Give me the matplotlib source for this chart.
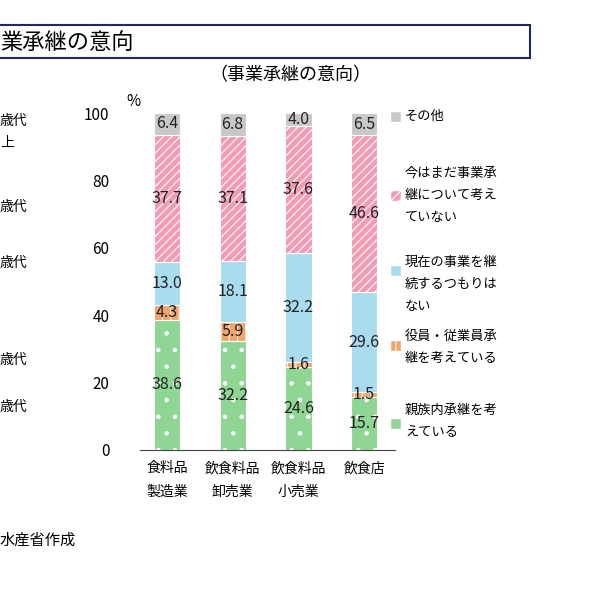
import matplotlib
matplotlib.use("Agg")
import matplotlib.pyplot as plt
from matplotlib.patches import Rectangle
import numpy as np

plt.rcParams['font.family'] = ['Noto Sans CJK JP', 'DejaVu Sans']
plt.rcParams['hatch.color'] = 'white'
plt.rcParams['hatch.linewidth'] = 0.8

categories = ["食料品\n製造業", "飲食料品\n卸売業", "飲食料品\n小売業", "飲食店"]
series_names = ["親族内承継を考\nえている", "役員・従業員承\n継を考えている",
                "現在の事業を継\n続するつもりは\nない", "今はまだ事業承\n継について考え\nていない", "その他"]
kin = [38.6, 32.2, 24.6, 15.7]
staff = [4.3, 5.9, 1.6, 1.5]
cont = [13.0, 18.1, 32.2, 29.6]
undecided = [37.7, 37.1, 37.6, 46.6]
other = [6.4, 6.8, 4.0, 6.5]
series = [kin, staff, cont, undecided, other]
colors = ["#8fd694", "#f4a46a", "#a9dcee", "#f39ab5", "#c8c8c8"]
hatches = [".", "||", None, "////", None]

W, H = 597, 591
fig = plt.figure(figsize=(W/100, H/100), dpi=100)
ax = fig.add_axes([140/W, 1-450/H, 255/W, 337/H])
x = np.arange(len(categories))
bottom = np.zeros(len(categories))
for vals, c, h in zip(series, colors, hatches):
    ax.bar(x, vals, 0.4, bottom=bottom, color=c, edgecolor='white', linewidth=0.8, hatch=h)
    for xi, b, v in zip(x, bottom, vals):
        ax.text(xi, b + v/2, f"{v:.1f}", ha='center', va='center', fontsize=11.5, color='#222222')
    bottom += np.array(vals)
ax.set_xlim(-0.41, 3.47)
ax.set_ylim(0, 100)
ax.set_yticks([0, 20, 40, 60, 80, 100])
ax.tick_params(axis='y', length=0, labelsize=11, pad=22)
ax.tick_params(axis='x', length=0, labelsize=10, pad=8)
ax.set_xticks(x)
ax.set_xticklabels(categories, linespacing=1.9)
for s in ['top', 'right', 'left']:
    ax.spines[s].set_visible(False)
ax.spines['bottom'].set_color('#444444')
fig.text(133/W, 1-102/H, "%", fontsize=11, ha='center', va='center')

legend_items = list(zip(series_names, colors, hatches))[::-1]
leg_pos = [(117, 110), (196, 167), (271, 256), (346, 330), (424, 404)]
for (name, c, h), (my, ty) in zip(legend_items, leg_pos):
    fig.patches.append(Rectangle((391/W, 1-(my+5)/H), 10/W, 10/H, transform=fig.transFigure,
                                 facecolor=c, edgecolor='white', hatch=h, linewidth=0.3))
    fig.text(405/W, 1-ty/H, name, fontsize=9.5, va='top', ha='left', linespacing=1.9)

fig.patches.append(Rectangle((-5/W, 1-58/H), 535/W, 33/H, transform=fig.transFigure,
                             facecolor='none', edgecolor='#1f2a5a', linewidth=1.5))
fig.text(0, 1-42/H, "業承継の意向", fontsize=16, va='center', ha='left')
fig.text(290/W, 1-75/H, "（事業承継の意向）", fontsize=13, va='center', ha='center')

for t, yy in [("歳代", 121), ("上", 143), ("歳代", 207), ("歳代", 263), ("歳代", 360), ("歳代", 407)]:
    fig.text(0, 1-yy/H, t, fontsize=10, va='center', ha='left')
fig.text(0, 1-540/H, "水産省作成", fontsize=11, va='center', ha='left')

fig.savefig("out.png", dpi=100)
